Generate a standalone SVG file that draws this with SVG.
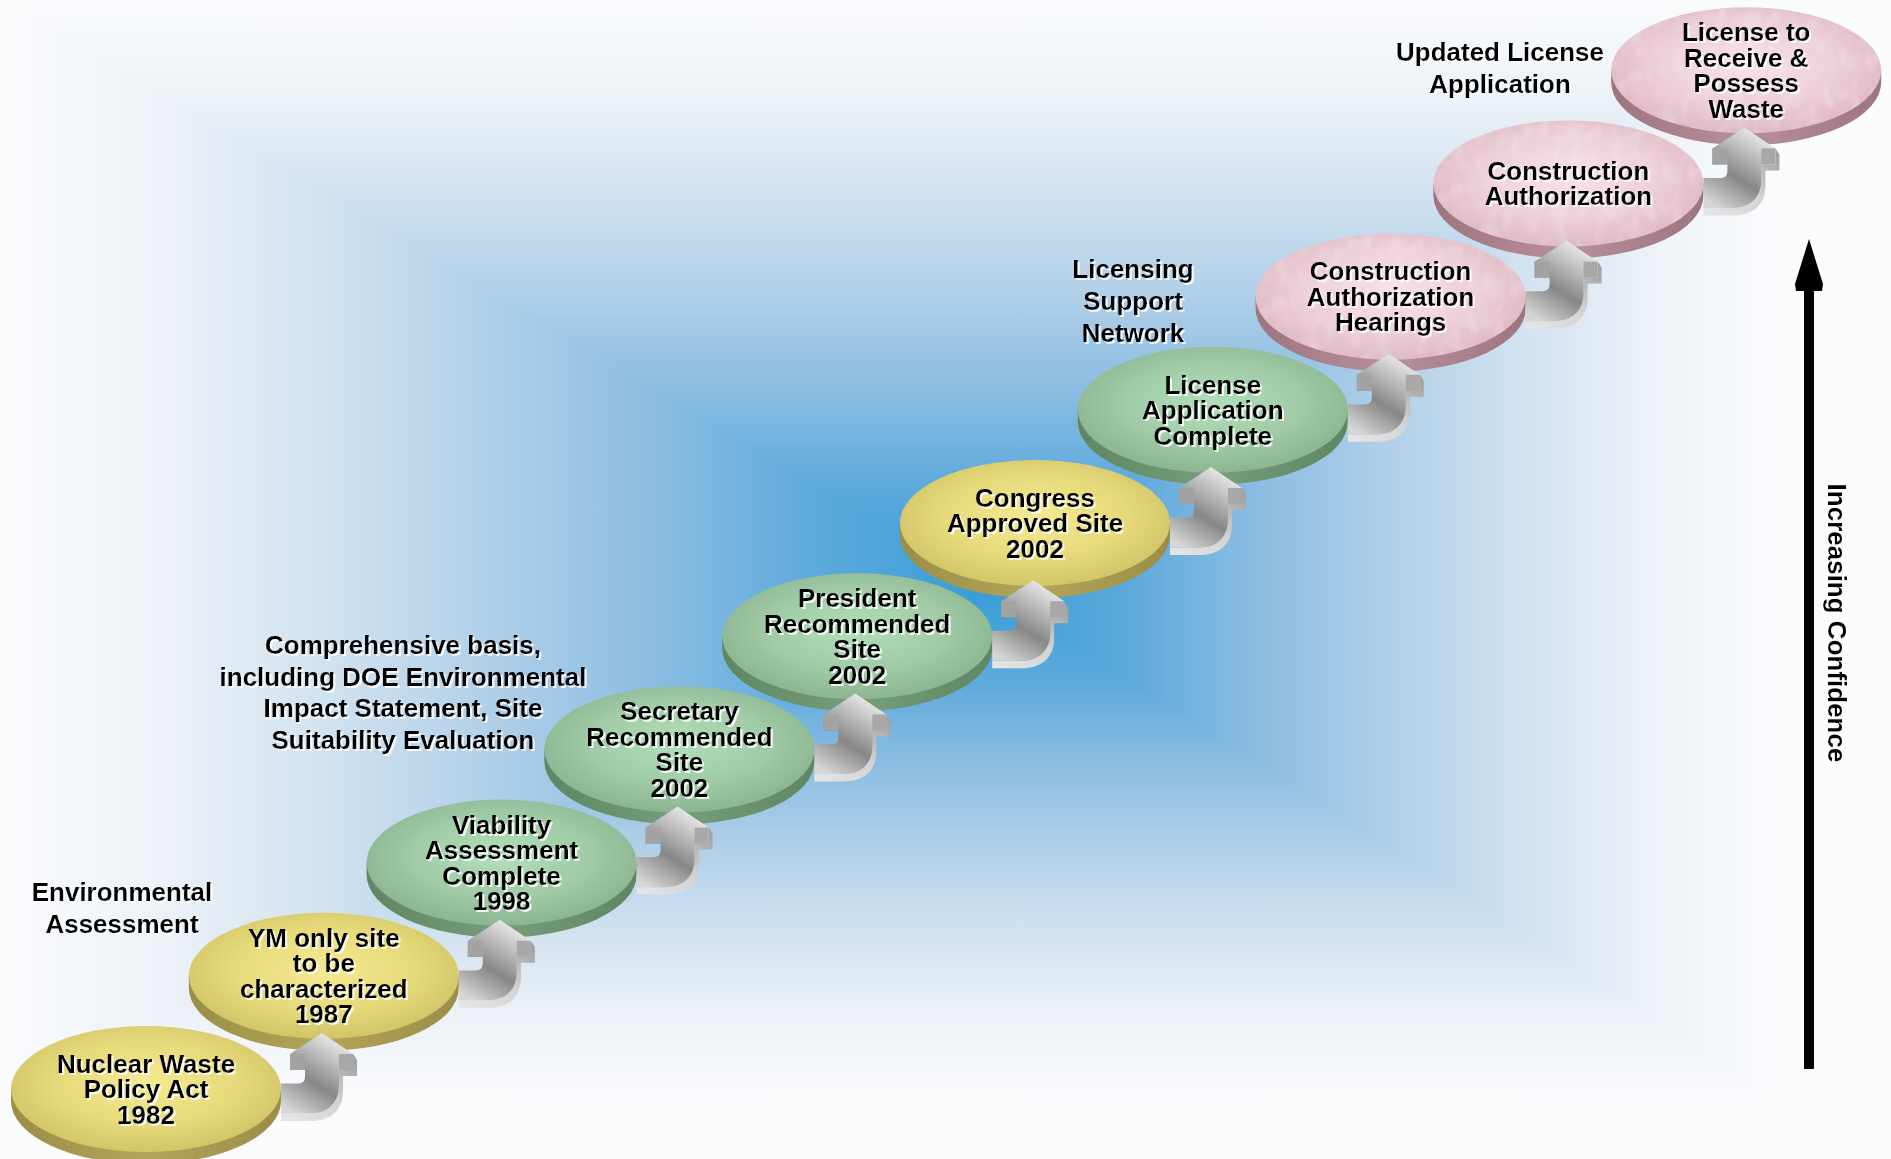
<svg xmlns="http://www.w3.org/2000/svg" xmlns:xlink="http://www.w3.org/1999/xlink" width="1891" height="1159" viewBox="0 0 1891 1159">
<defs>
<style>
text{font-family:"Liberation Sans",Arial,sans-serif;font-weight:bold;font-size:26px;fill:#000;text-anchor:middle}
.lbl{filter:url(#halo)}
.bg{stroke-width:1.5;stroke-linejoin:round}
</style>
<filter id="halo" x="-10%" y="-10%" width="120%" height="130%">
<feOffset in="SourceAlpha" dx="1.5" dy="1.5" result="o"/>
<feFlood flood-color="#ffffff" flood-opacity="0.85"/>
<feComposite in2="o" operator="in" result="w"/>
<feMerge><feMergeNode in="w"/><feMergeNode in="SourceGraphic"/></feMerge>
</filter>
<filter id="mottle" x="0" y="0" width="100%" height="100%">
<feTurbulence type="fractalNoise" baseFrequency="0.07 0.05" numOctaves="2" seed="4" result="n"/>
<feColorMatrix in="n" type="matrix" values="0 0 0 0 1  0 0 0 0 1  0 0 0 0 1  0 0 0 0.5 -0.22" result="m"/>
<feComposite in="m" in2="SourceAlpha" operator="in" result="mc"/>
<feMerge><feMergeNode in="SourceGraphic"/><feMergeNode in="mc"/></feMerge>
</filter>
<linearGradient id="bgT" gradientUnits="userSpaceOnUse" x1="0" y1="0" x2="0" y2="590">
<stop offset="0" stop-color="#fbfcfe"/><stop offset="0.15" stop-color="#eef3f8"/><stop offset="0.32" stop-color="#d3e3f0"/><stop offset="0.5" stop-color="#b0cfe8"/><stop offset="0.66" stop-color="#8bbde2"/><stop offset="0.82" stop-color="#5eaadc"/><stop offset="1" stop-color="#389dd6"/>
</linearGradient>
<linearGradient id="bgB" gradientUnits="userSpaceOnUse" x1="0" y1="1100" x2="0" y2="590">
<stop offset="0" stop-color="#fbfcfe"/><stop offset="0.15" stop-color="#eef3f8"/><stop offset="0.32" stop-color="#d3e3f0"/><stop offset="0.5" stop-color="#b0cfe8"/><stop offset="0.66" stop-color="#8bbde2"/><stop offset="0.82" stop-color="#5eaadc"/><stop offset="1" stop-color="#389dd6"/>
</linearGradient>
<linearGradient id="bgL" gradientUnits="userSpaceOnUse" x1="0" y1="0" x2="990" y2="0">
<stop offset="0" stop-color="#fbfcfe"/><stop offset="0.15" stop-color="#eef3f8"/><stop offset="0.32" stop-color="#d3e3f0"/><stop offset="0.5" stop-color="#b0cfe8"/><stop offset="0.66" stop-color="#8bbde2"/><stop offset="0.82" stop-color="#5eaadc"/><stop offset="1" stop-color="#389dd6"/>
</linearGradient>
<linearGradient id="bgR" gradientUnits="userSpaceOnUse" x1="1780" y1="0" x2="990" y2="0">
<stop offset="0" stop-color="#fbfcfe"/><stop offset="0.15" stop-color="#eef3f8"/><stop offset="0.32" stop-color="#d3e3f0"/><stop offset="0.5" stop-color="#b0cfe8"/><stop offset="0.66" stop-color="#8bbde2"/><stop offset="0.82" stop-color="#5eaadc"/><stop offset="1" stop-color="#389dd6"/>
</linearGradient>
<radialGradient id="topY" cx="0.5" cy="0.45" r="0.55">
<stop offset="0" stop-color="#f4ea92"/><stop offset="0.6" stop-color="#e6da7a"/><stop offset="1" stop-color="#d2c568"/>
</radialGradient>
<radialGradient id="topG" cx="0.5" cy="0.45" r="0.55">
<stop offset="0" stop-color="#b2deba"/><stop offset="0.6" stop-color="#a0cba6"/><stop offset="1" stop-color="#8cb491"/>
</radialGradient>
<radialGradient id="topP" cx="0.5" cy="0.45" r="0.55">
<stop offset="0" stop-color="#f8e2e8"/><stop offset="0.6" stop-color="#edcfd8"/><stop offset="1" stop-color="#deb9c4"/>
</radialGradient>
<linearGradient id="sideY" x1="0" y1="0" x2="1" y2="0">
<stop offset="0" stop-color="#9a8d46"/><stop offset="0.5" stop-color="#b3a65a"/><stop offset="1" stop-color="#9a8d46"/>
</linearGradient>
<linearGradient id="sideG" x1="0" y1="0" x2="1" y2="0">
<stop offset="0" stop-color="#5f8663"/><stop offset="0.5" stop-color="#779d7b"/><stop offset="1" stop-color="#5f8663"/>
</linearGradient>
<linearGradient id="sideP" x1="0" y1="0" x2="1" y2="0">
<stop offset="0" stop-color="#9c7581"/><stop offset="0.5" stop-color="#b7909b"/><stop offset="1" stop-color="#9c7581"/>
</linearGradient>
<path id="sideShape" d="M-135,0 L-135,12 A135,63 0 0 0 135,12 L135,0 Z"/>
<linearGradient id="arrFront" x1="0.75" y1="0" x2="0.2" y2="1">
<stop offset="0" stop-color="#f2f2f2"/><stop offset="0.35" stop-color="#b4b4b4"/><stop offset="0.6" stop-color="#878787"/><stop offset="0.85" stop-color="#b8b8b8"/><stop offset="1" stop-color="#d6d6d6"/>
</linearGradient>
<linearGradient id="arrSide" x1="1" y1="0" x2="0" y2="1">
<stop offset="0" stop-color="#9a9a9a"/><stop offset="0.5" stop-color="#d4d4d4"/><stop offset="1" stop-color="#e6e6e6"/>
</linearGradient>
<g id="arr">
<path d="M31,21 L35,27 L35,43 L21,43 L21,58 C21,78 8,88 -12,88 L-41,88 L-41,80.6 L-12,80.6 C6,80.6 17,70 17,52 L17,37 L31,37 Z" fill="url(#arrSide)"/>
<path d="M0,0 L31,21 L31,37 L17,37 L17,52 C17,70 6,80.6 -12,80.6 L-41,80.6 L-41,50.6 L-24,50.6 C-19,50.6 -17,48 -17,43 L-17,37 L-32,37 L-32,21 Z" fill="url(#arrFront)"/>
<rect x="-32" y="21" width="15" height="16" fill="#a3a3a3"/>
<rect x="17" y="21" width="14" height="16" fill="#a8a8a8"/>
</g>
</defs>

<g id="background">
<rect x="0" y="0" width="1891" height="1159" fill="#fbfcfe"/>
<polygon class="bg" points="0,0 1780,0 990,590" fill="url(#bgT)" stroke="url(#bgT)"/>
<polygon class="bg" points="0,1100 1780,1100 990,590" fill="url(#bgB)" stroke="url(#bgB)"/>
<polygon class="bg" points="0,0 0,1100 990,590" fill="url(#bgL)" stroke="url(#bgL)"/>
<polygon class="bg" points="1780,0 1780,1100 990,590" fill="url(#bgR)" stroke="url(#bgR)"/>
</g>

<g id="n10" transform="translate(1746.2,70.2)">
<use href="#sideShape" fill="url(#sideP)"/>
<ellipse rx="135" ry="63" fill="url(#topP)" filter="url(#mottle)"/>
<text class="lbl"><tspan x="0" y="-29">License to</tspan><tspan x="0" y="-3.5">Receive &amp;</tspan><tspan x="0" y="22">Possess</tspan><tspan x="0" y="47.5">Waste</tspan></text>
</g>
<g id="n9" transform="translate(1568.4,183.4)">
<use href="#sideShape" fill="url(#sideP)"/>
<ellipse rx="135" ry="63" fill="url(#topP)" filter="url(#mottle)"/>
<text class="lbl"><tspan x="0" y="-3.5">Construction</tspan><tspan x="0" y="22">Authorization</tspan></text>
</g>
<g id="n8" transform="translate(1390.6,296.6)">
<use href="#sideShape" fill="url(#sideP)"/>
<ellipse rx="135" ry="63" fill="url(#topP)" filter="url(#mottle)"/>
<text class="lbl"><tspan x="0" y="-16.2">Construction</tspan><tspan x="0" y="9.3">Authorization</tspan><tspan x="0" y="34.8">Hearings</tspan></text>
</g>
<g id="n7" transform="translate(1212.8,409.8)">
<use href="#sideShape" fill="url(#sideG)"/>
<ellipse rx="135" ry="63" fill="url(#topG)"/>
<text class="lbl"><tspan x="0" y="-16.2">License</tspan><tspan x="0" y="9.3">Application</tspan><tspan x="0" y="34.8">Complete</tspan></text>
</g>
<g id="n6" transform="translate(1035,523)">
<use href="#sideShape" fill="url(#sideY)"/>
<ellipse rx="135" ry="63" fill="url(#topY)"/>
<text class="lbl"><tspan x="0" y="-16.2">Congress</tspan><tspan x="0" y="9.3">Approved Site</tspan><tspan x="0" y="34.8">2002</tspan></text>
</g>
<g id="n5" transform="translate(857.2,636.2)">
<use href="#sideShape" fill="url(#sideG)"/>
<ellipse rx="135" ry="63" fill="url(#topG)"/>
<text class="lbl"><tspan x="0" y="-29">President</tspan><tspan x="0" y="-3.5">Recommended</tspan><tspan x="0" y="22">Site</tspan><tspan x="0" y="47.5">2002</tspan></text>
</g>
<g id="n4" transform="translate(679.4,749.4)">
<use href="#sideShape" fill="url(#sideG)"/>
<ellipse rx="135" ry="63" fill="url(#topG)"/>
<text class="lbl"><tspan x="0" y="-29">Secretary</tspan><tspan x="0" y="-3.5">Recommended</tspan><tspan x="0" y="22">Site</tspan><tspan x="0" y="47.5">2002</tspan></text>
</g>
<g id="n3" transform="translate(501.6,862.6)">
<use href="#sideShape" fill="url(#sideG)"/>
<ellipse rx="135" ry="63" fill="url(#topG)"/>
<text class="lbl"><tspan x="0" y="-29">Viability</tspan><tspan x="0" y="-3.5">Assessment</tspan><tspan x="0" y="22">Complete</tspan><tspan x="0" y="47.5">1998</tspan></text>
</g>
<g id="n2" transform="translate(323.8,975.8)">
<use href="#sideShape" fill="url(#sideY)"/>
<ellipse rx="135" ry="63" fill="url(#topY)"/>
<text class="lbl"><tspan x="0" y="-29">YM only site</tspan><tspan x="0" y="-3.5">to be</tspan><tspan x="0" y="22">characterized</tspan><tspan x="0" y="47.5">1987</tspan></text>
</g>
<g id="n1" transform="translate(146,1089)">
<use href="#sideShape" fill="url(#sideY)"/>
<ellipse rx="135" ry="63" fill="url(#topY)"/>
<text class="lbl"><tspan x="0" y="-16.2">Nuclear Waste</tspan><tspan x="0" y="9.3">Policy Act</tspan><tspan x="0" y="34.8">1982</tspan></text>
</g>

<g id="connectors">
<use href="#arr" transform="translate(322,1033)"/>
<use href="#arr" transform="translate(499.8,919.8)"/>
<use href="#arr" transform="translate(677.6,806.6)"/>
<use href="#arr" transform="translate(855.4,693.4)"/>
<use href="#arr" transform="translate(1033.2,580.2)"/>
<use href="#arr" transform="translate(1211,467)"/>
<use href="#arr" transform="translate(1388.8,353.8)"/>
<use href="#arr" transform="translate(1566.6,240.6)"/>
<use href="#arr" transform="translate(1744.4,127.4)"/>
</g>

<g id="annotations">
<text class="lbl"><tspan x="122" y="901">Environmental</tspan><tspan x="122" y="933">Assessment</tspan></text>
<text class="lbl"><tspan x="403" y="654">Comprehensive basis,</tspan><tspan x="403" y="686">including DOE Environmental</tspan><tspan x="403" y="717">Impact Statement, Site</tspan><tspan x="403" y="749">Suitability Evaluation</tspan></text>
<text class="lbl"><tspan x="1133" y="278">Licensing</tspan><tspan x="1133" y="310">Support</tspan><tspan x="1133" y="342">Network</tspan></text>
<text class="lbl"><tspan x="1500" y="61">Updated License</tspan><tspan x="1500" y="93">Application</tspan></text>
</g>

<g id="confidence">
<polygon points="1809,239 1823,284 1822,291 1814,291 1814,1069 1804,1069 1804,291 1796,291 1795,284" fill="#000"/>
<text class="lbl" transform="translate(1828,623) rotate(90)">Increasing Confidence</text>
</g>
</svg>
